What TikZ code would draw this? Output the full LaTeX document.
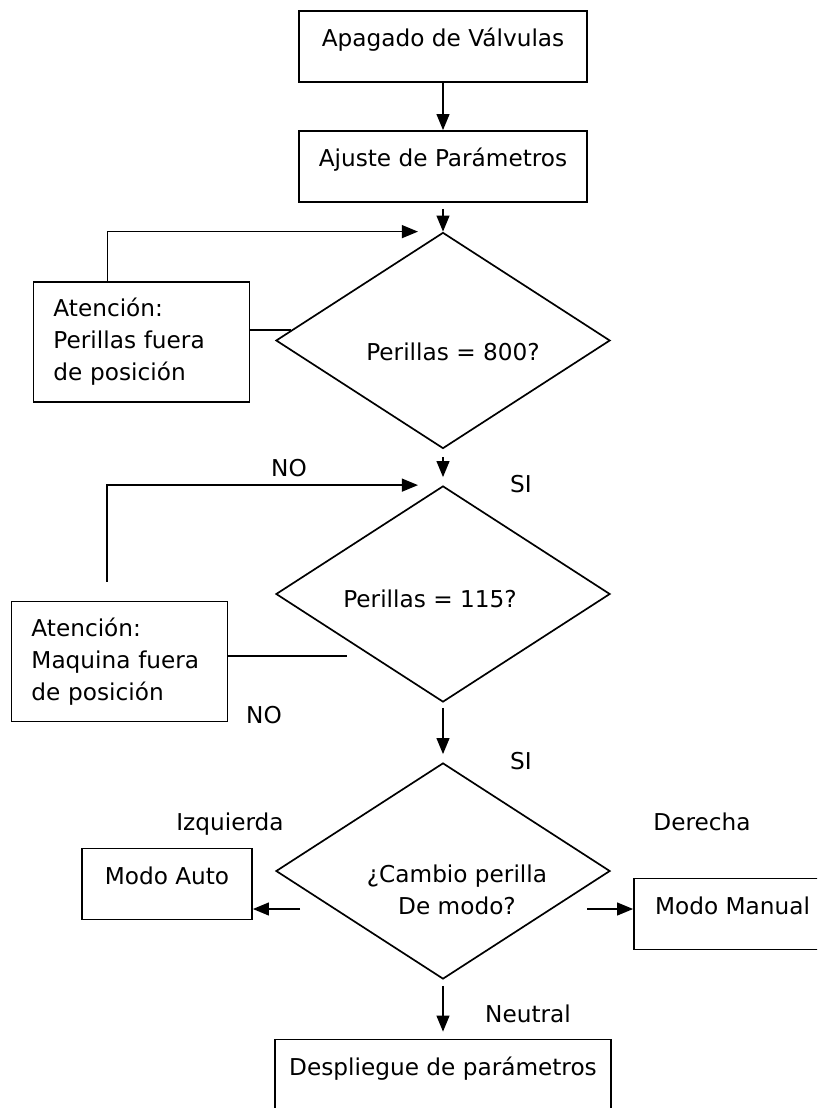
\documentclass[tikz,border=0pt]{standalone}
\usepackage{fontspec}
\setmainfont{DejaVu Sans}
\usetikzlibrary{arrows.meta,shapes.geometric}

\tikzset{
  box/.style={draw, line width=1.2pt, inner sep=0pt, text height=0.8875cm, text depth=0.8875cm, minimum width=#1},
  warnbox/.style={draw, line width=1.2pt, align=left, text width=4.4cm, inner xsep=0.5cm, inner ysep=0pt, minimum height=3cm},
  decision/.style={draw, line width=1.2pt, diamond, inner sep=0pt, minimum width=8.35cm, minimum height=5.4cm},
  flow/.style={line width=1.2pt, -{Triangle[length=0.4cm, width=0.32cm]}},
}

\begin{document}
\begin{tikzpicture}[x=0.025cm, y=-0.025cm, font=\fontsize{16.5}{22.7}\selectfont]
    \useasboundingbox (0, 0) rectangle (817, 1108);
    \clip (0, 0) rectangle (817, 1108);

    \node [box=7.2cm] (apagado) at (443, 46.5) {Apagado de Válvulas};
    \node [box=7.2cm] (ajuste) at (443, 166.5) {Ajuste de Parámetros};

    \node [decision] (d1) at (443, 340.5) {};
    \node [decision] (d2) at (443, 594) {};
    \node [decision] (d3) at (443, 871) {};
    \node [anchor=base] (t1) at (453, 361) {Perillas = 800?};
    \node [anchor=base] (t2) at (430, 607) {Perillas = 115?};
    \node [align=center] (t3) at (457, 890) {¿Cambio perilla\\De modo?};

    \node [warnbox] (warn1) at (141.5, 342) {Atención:\\Perillas fuera\\de posición};
    \node [warnbox] (warn2) at (119.5, 661.5) {Atención:\\Maquina fuera\\de posición};

    \node [box=4.25cm] (auto) at (167, 884) {Modo Auto};
    \node [box=4.925cm] (manual) at (732.5, 914) {Modo Manual};
    \node [box=8.4cm] (despliegue) at (443, 1075) {Despliegue de parámetros};

    \draw [flow] (apagado) -- (ajuste);
    \draw [flow, shorten <=0.15cm] (ajuste) -- (d1);
    \draw [flow, shorten <=0.2cm, shorten >=0.2cm] (d1) -- (d2);
    \draw [flow, shorten <=0.125cm, shorten >=0.2cm] (d2) -- (d3);
    \draw [flow, shorten <=0.15cm, shorten >=0.175cm] (d3) -- (despliegue);

    % lazos de atencion
    \draw [flow] ([xshift=-0.85cm]warn1.north) |- ([xshift=-0.625cm]d1.north);
    \draw [line width=1.2pt] (d1.176) -- (d1.176 -| warn1.east);
    \draw [flow] ([xshift=-0.31cm, yshift=0.475cm]warn2.north) |- ([xshift=-0.625cm]d2.north);
    \draw [line width=1.2pt] ([yshift=0.14cm]warn2.east) -- ++(119, 0);

    \coordinate (left3) at (300, 909);
    \coordinate (right3) at (587, 909);
    \draw [flow] (left3) -- (left3 -| auto.east);
    \draw [flow] (right3) -- (right3 -| manual.west);

    \node [anchor=base] (no1) at (289, 476) {NO};
    \node [anchor=base] (si1) at (521, 492) {SI};
    \node [anchor=base] (no2) at (264, 723) {NO};
    \node [anchor=base] (si2) at (521, 769) {SI};
    \node [anchor=base] (izq) at (230, 830) {Izquierda};
    \node [anchor=base] (der) at (702, 830) {Derecha};
    \node [anchor=base] (neutral) at (528, 1022) {Neutral};
\end{tikzpicture}
\end{document}
